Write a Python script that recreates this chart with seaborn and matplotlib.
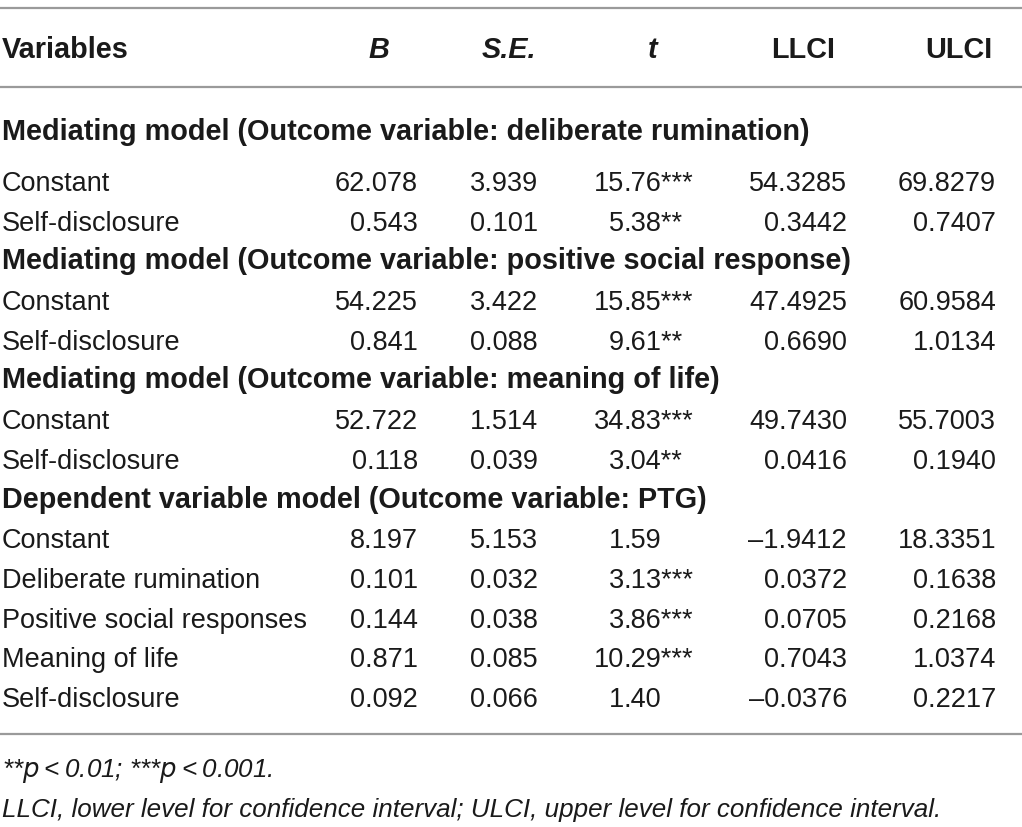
import matplotlib
matplotlib.use("Agg")
import matplotlib.pyplot as plt
import seaborn as sns

sns.set_theme(style="white")
plt.rcParams['font.family'] = ['Liberation Sans', 'DejaVu Sans']

# ---- data ----
headers = ["Variables", "B", "S.E.", "t", "LLCI", "ULCI"]
sections = [
    "Mediating model (Outcome variable: deliberate rumination)",
    "Mediating model (Outcome variable: positive social response)",
    "Mediating model (Outcome variable: meaning of life)",
    "Dependent variable model (Outcome variable: PTG)",
]
section_rows = [2, 2, 2, 5]
variables = ["Constant", "Self-disclosure",
             "Constant", "Self-disclosure",
             "Constant", "Self-disclosure",
             "Constant", "Deliberate rumination", "Positive social responses",
             "Meaning of life", "Self-disclosure"]
B = [62.078, 0.543, 54.225, 0.841, 52.722, 0.118, 8.197, 0.101, 0.144, 0.871, 0.092]
SE = [3.939, 0.101, 3.422, 0.088, 1.514, 0.039, 5.153, 0.032, 0.038, 0.085, 0.066]
t = [15.76, 5.38, 15.85, 9.61, 34.83, 3.04, 1.59, 3.13, 3.86, 10.29, 1.40]
sig = ["***", "**", "***", "**", "***", "**", "", "***", "***", "***", ""]
LLCI = [54.3285, 0.3442, 47.4925, 0.6690, 49.7430, 0.0416, -1.9412, 0.0372, 0.0705, 0.7043, -0.0376]
ULCI = [69.8279, 0.7407, 60.9584, 1.0134, 55.7003, 0.1940, 18.3351, 0.1638, 0.2168, 1.0374, 0.2217]
footnotes = ["**$\\it{p}$\u2009<\u20090.01; ***$\\it{p}$\u2009<\u20090.001.",
             "LLCI, lower level for confidence interval; ULCI, upper level for confidence interval."]

def fmt(v, d):
    s = f"{abs(v):.{d}f}"
    return ("\u2013" + s) if v < 0 else s

W, H = 1022, 828
fig = plt.figure(figsize=(W / 100, H / 100), dpi=100)
ax = fig.add_axes([0, 0, 1, 1])
ax.set_xlim(0, W)
ax.set_ylim(H, 0)
ax.axis("off")

fs = 19.5
fsb = 20.8
txt = "#1a1a1a"
line_c = "#9a9a9a"

# rules
for y in (9, 88, 735):
    ax.axhline(y, color=line_c, lw=1.6)

# header
hy = 58
ax.text(2, hy, headers[0], fontsize=fsb, weight="bold", color=txt, va="baseline", ha="left")
hx = [379, 509, 653, 803, 959]
for i, h in enumerate(headers[1:]):
    style = "italic" if h in ("B", "S.E.", "t") else "normal"
    ax.text(hx[i], hy, h, fontsize=fsb, weight="bold", style=style, color=txt,
            va="baseline", ha="center")

# body
x_B, x_SE, x_tdec, x_LL, x_UL = 418, 538, 624, 847, 996
step = 39.7
y0 = 191
row = 0
vi = 0
for s, n in zip(sections, section_rows):
    if row == 0:
        ys = 140
    else:
        ys = y0 - 1 + step * row
    ax.text(2, ys, s, fontsize=fsb, weight="bold", color=txt, va="baseline", ha="left")
    if row != 0:
        row += 1
    for k in range(n):
        y = y0 + step * row
        ax.text(2, y, variables[vi], fontsize=fs, color=txt, va="baseline", ha="left")
        ax.text(x_B, y, fmt(B[vi], 3), fontsize=fs, color=txt, va="baseline", ha="right")
        ax.text(x_SE, y, fmt(SE[vi], 3), fontsize=fs, color=txt, va="baseline", ha="right")
        ts = fmt(t[vi], 2)
        ip, fp = ts.split(".")
        ax.text(x_tdec, y, ip, fontsize=fs, color=txt, va="baseline", ha="right")
        ax.text(x_tdec, y, "." + fp + sig[vi], fontsize=fs, color=txt, va="baseline", ha="left")
        ax.text(x_LL, y, fmt(LLCI[vi], 4), fontsize=fs, color=txt, va="baseline", ha="right")
        ax.text(x_UL, y, fmt(ULCI[vi], 4), fontsize=fs, color=txt, va="baseline", ha="right")
        row += 1
        vi += 1

# footnotes
ax.text(2, 777, footnotes[0], fontsize=18.7, style="italic", color=txt, va="baseline", ha="left")
ax.text(2, 817, footnotes[1], fontsize=18.7, style="italic", color=txt, va="baseline", ha="left")

fig.savefig("out.png", dpi=100, facecolor="white")
